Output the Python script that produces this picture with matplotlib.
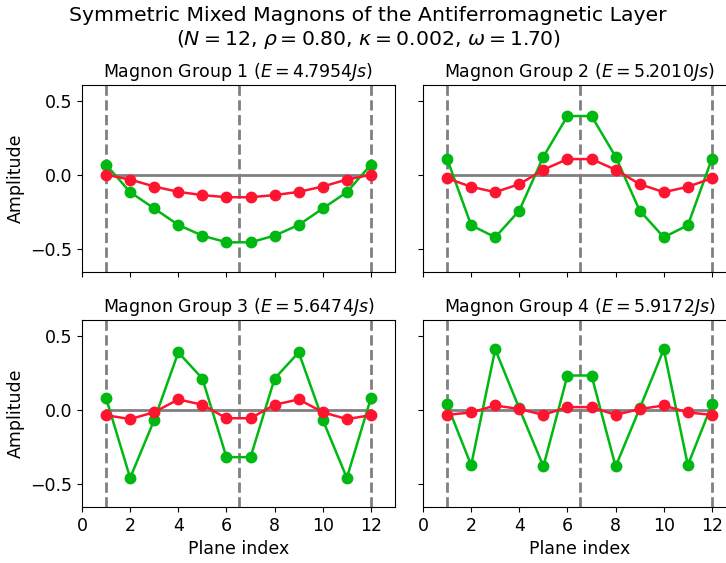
import matplotlib
import matplotlib.pyplot as plt
import numpy as np

matplotlib.use("Agg")

planes = np.arange(1, 13)
energies = [4.7954, 5.2010, 5.6474, 5.9172]

# first half (planes 1..6); second half mirrors it
green_half = [
    [0.068, -0.117, -0.227, -0.338, -0.410, -0.455],
    [0.108, -0.340, -0.421, -0.241, 0.122, 0.396],
    [0.079, -0.459, -0.068, 0.387, 0.210, -0.319],
    [0.036, -0.373, 0.407, 0.009, -0.382, 0.231],
]
red_half = [
    [0.000, -0.032, -0.079, -0.115, -0.137, -0.151],
    [-0.023, -0.081, -0.117, -0.063, 0.034, 0.106],
    [-0.036, -0.063, -0.016, 0.070, 0.034, -0.057],
    [-0.034, -0.018, 0.029, 0.005, -0.034, 0.018],
]

GREEN = "#00b812"
RED = "#ff1430"

fig = plt.figure(figsize=(7.26, 5.63), dpi=100)
lefts = [82 / 726, 423 / 726]
bottoms = [1 - 272 / 563, 1 - 507 / 563]
w = 313 / 726
h = 187 / 563

for i in range(4):
    r, c = divmod(i, 2)
    ax = fig.add_axes([lefts[c], bottoms[r], w, h])
    g = green_half[i] + green_half[i][::-1]
    rd = red_half[i] + red_half[i][::-1]
    ax.plot([1, 12], [0, 0], color="gray", lw=2, zorder=1)
    for xv in (1, 6.5, 12):
        ax.axvline(xv, color="gray", ls="--", lw=2, zorder=1)
    ax.plot(planes, g, "-o", color=GREEN, lw=1.8, ms=7.5, zorder=3)
    ax.plot(planes, rd, "-o", color=RED, lw=1.8, ms=7.5, zorder=4)
    ax.set_xlim(0, 13)
    ax.set_ylim(-0.655, 0.605)
    ax.set_xticks(range(0, 13, 2))
    ax.set_yticks([-0.5, 0.0, 0.5])
    ax.tick_params(labelsize=12.5)
    ax.set_title(f"Magnon Group {i + 1} ($E = {energies[i]:.4f} Js$)", fontsize=12.5)
    if c == 0:
        ax.set_ylabel("Amplitude", fontsize=12.5)
    else:
        ax.set_yticklabels([])
    if r == 1:
        ax.set_xlabel("Plane index", fontsize=12.5)
    else:
        ax.set_xticklabels([])

fig.suptitle(
    "Symmetric Mixed Magnons of the Antiferromagnetic Layer\n"
    r"($N = 12$, $\rho = 0.80$, $\kappa = 0.002$, $\omega = 1.70$)",
    fontsize=14.7, x=0.507, y=0.99,
)

fig.savefig("out.png", dpi=100)
